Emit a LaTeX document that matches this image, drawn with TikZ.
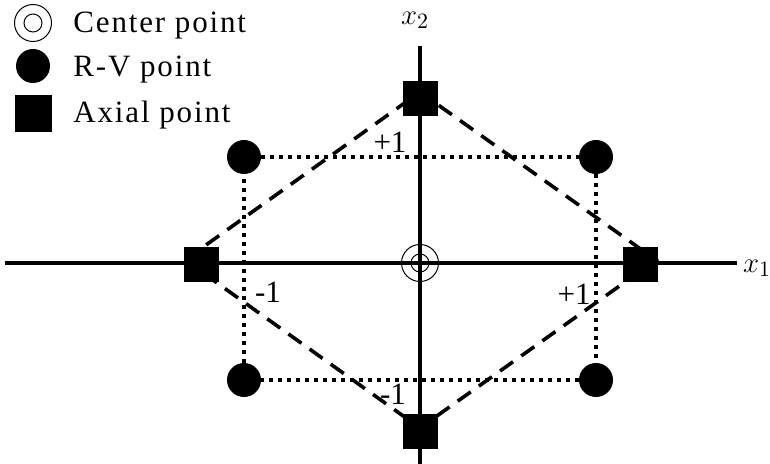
\documentclass[tikz,border=0pt]{standalone}
\usepackage{fontspec}
\setmainfont{Liberation Serif}
\newfontfamily\legendfont[LetterSpace=6]{Liberation Serif}
\usepackage{tikz}
\tikzset{
  % node options
  centerPoint/.style={circle,draw,line width=0.5pt,minimum size=18.5pt,inner sep=0pt,
    path picture={\draw[line width=0.5pt] (path picture bounding box.center) circle (4.5pt);}},
  rvPoint/.style={circle,fill,minimum size=17pt,inner sep=0pt},
  axialPoint/.style={rectangle,fill,minimum size=17.5pt,inner sep=0pt},
  legendText/.style={anchor=base west,inner sep=0pt,font=\legendfont\fontsize{15.5}{18}\selectfont},
  level/.style={inner sep=0pt,font=\fontsize{15.5}{18}\selectfont},
  axisLabel/.style={inner sep=0pt,font=\fontsize{15}{18}\selectfont},
  % path options
  axis/.style={line width=1.7pt},
  axialEdge/.style={line width=1.8pt,dash pattern=on 8pt off 5pt},
  rvEdge/.style={line width=1.9pt,dash pattern=on 2pt off 2.5pt},
}

\begin{document}
\begin{tikzpicture}[x=0.5pt,y=-0.5pt]
  \useasboundingbox (0,0) rectangle (770,464);

  % corners of the axial diamond
  \coordinate (dLeft) at (185,260);
  \coordinate (dTop) at (420,92);
  \coordinate (dRight) at (656,260);
  \coordinate (dBottom) at (420,428);
  \draw[axialEdge] (dLeft) -- (dTop) -- (dRight) -- (dBottom) -- cycle;

  % axes
  \coordinate (x1Start) at (5,263);
  \coordinate (x1End) at (737,263);
  \coordinate (x2Start) at (420,464);
  \coordinate (x2End) at (420,46);
  \draw[axis] (x1Start) -- (x1End);
  \draw[axis] (x2Start) -- (x2End);
  \node[axisLabel] (x1) at (757,268) {$x_{1}$};
  \node[axisLabel] (x2) at (415,20) {$x_{2}$};

  % design points
  \node[centerPoint] (center) at (420,263) {};
  \node[rvPoint] (rvNW) at (244,157) {};
  \node[rvPoint] (rvNE) at (596,157) {};
  \node[rvPoint] (rvSW) at (244,380) {};
  \node[rvPoint] (rvSE) at (596,380) {};
  \node[axialPoint] (axTop) at (420,99) {};
  \node[axialPoint] (axBottom) at (420,431) {};
  \node[axialPoint] (axLeft) at (201,265) {};
  \node[axialPoint] (axRight) at (640,265) {};

  \draw[rvEdge] (rvNW) -- (rvNE);
  \draw[rvEdge] (rvNE) -- (rvSE);
  \draw[rvEdge] (rvSE) -- (rvSW);
  \draw[rvEdge] (rvSW) -- (rvNW);

  \node[level] (lvTop) at (390,142) {+1};
  \node[level] (lvLeft) at (268,292) {-1};
  \node[level] (lvRight) at (574,294) {+1};
  \node[level] (lvBottom) at (393,394) {-1};

  % legend
  \node[centerPoint] (keyCenter) at (33,23) {};
  \node[rvPoint] (keyRV) at (33,66) {};
  \node[axialPoint,minimum size=18.5pt] (keyAxial) at (33,114) {};
  \node[legendText] (txtCenter) at (73,33) {Center point};
  \node[legendText] (txtRV) at (73,77) {R-V point};
  \node[legendText] (txtAxial) at (73,123) {Axial point};
\end{tikzpicture}
\end{document}
